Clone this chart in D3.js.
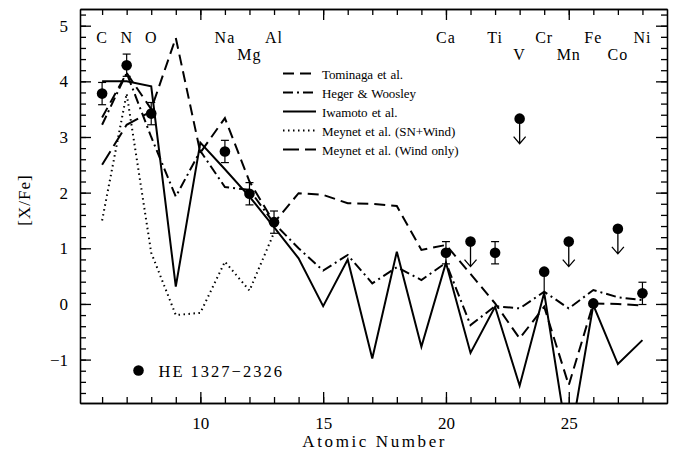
<!DOCTYPE html>
<html>
<head>
<meta charset="utf-8">
<script src="https://cdn.jsdelivr.net/npm/d3@7/dist/d3.min.js"></script>
<style>
    body { margin: 0; background: #fff; }
    svg text { font-family: "Liberation Serif", "Times New Roman", serif; fill: #000; }
    .axis path, .axis line { stroke: #000; stroke-width: 1.3; }
</style>
</head>
<body>
<svg id="chart" width="680" height="452"></svg>
<script>

    // model yields, atomic number 6 (C) .. 28 (Ni)
    var modelZ = [ 6, 7, 8, 9, 10, 11, 12, 13, 14, 15, 16, 17, 18, 19, 20, 21, 22, 23, 24, 25, 26, 27, 28 ];
    var tominaga = [ 3.35, 4.15, 3.5, 4.78, 2.72, 3.34, 2.2, 1.46, 1.99, 1.96, 1.81, 1.8, 1.76, 0.97, 1.06, 0.54, 0.01, -0.62, -0.05, -1.46, 0.01, 0.0, -0.03 ];
    var heger = [ 3.22, 4.15, 3.0, 1.93, 2.75, 2.1, 2.05, 1.45, 1.0, 0.6, 0.88, 0.37, 0.66, 0.43, 0.74, -0.38, -0.04, -0.08, 0.22, -0.08, 0.25, 0.12, 0.07 ];
    var iwamoto = [ 4.0, 4.0, 3.91, 0.31, 2.9, 2.42, 1.93, 1.38, 0.82, -0.04, 0.8, -0.98, 0.94, -0.77, 0.74, -0.88, -0.05, -1.47, 0.2, -2.6, -0.02, -1.08, -0.65 ];

    var meynetSNZ = [ 6, 7, 8, 9, 10, 11, 12, 13 ];
    var meynetSN = [ 1.5, 3.78, 0.92, -0.2, -0.16, 0.76, 0.24, 1.28 ];

    var meynetWindZ = [ 6, 7, 8 ];
    var meynetWind = [ 2.5, 3.22, 3.46 ];

    // HE 1327-2326 measurements
    var obsZ = [ 6, 7, 8, 11, 12, 13, 20, 22, 24, 26, 28 ];
    var obsXFe = [ 3.78, 4.29, 3.42, 2.74, 1.98, 1.47, 0.92, 0.92, 0.58, 0.01, 0.19 ];
    var obsErrLo = [ 0.2, 0.2, 0.2, 0.2, 0.2, 0.2, 0.2, 0.2, 0.38, 0, 0.2 ];
    var obsErrHi = [ 0.2, 0.2, 0.2, 0.2, 0.2, 0.2, 0.2, 0.2, 0, 0, 0.2 ];

    // upper limits
    var limitZ = [ 21, 23, 25, 27 ];
    var limitXFe = [ 1.12, 3.33, 1.12, 1.35 ];

    var elementNames = [ 'C', 'N', 'O', 'Na', 'Mg', 'Al', 'Ca', 'Ti', 'V', 'Cr', 'Mn', 'Fe', 'Co', 'Ni' ];
    var elementZ = [ 6, 7, 8, 11, 12, 13, 20, 22, 23, 24, 25, 26, 27, 28 ];
    var elementRow = [ 0, 0, 0, 0, 1, 0, 0, 0, 1, 0, 1, 0, 1, 0 ];

    var xMajorTicks = [ 10, 15, 20, 25 ];
    var yMajorTicks = [ -1, 0, 1, 2, 3, 4, 5 ];

    var legendNames = [ 'Tominaga et al.', 'Heger & Woosley', 'Iwamoto et al.', 'Meynet et al. (SN+Wind)', 'Meynet et al. (Wind only)' ];
    var legendDash = [ '11,6', '10,4,2,4', null, '1.5,3.5', '16,6' ];


    var margin = { top: 9, right: 13, bottom: 49, left: 80 },
        width = 680 - margin.left - margin.right,
        height = 452 - margin.top - margin.bottom,
        svg = d3.select( '#chart' ),
        g = svg.append( 'g' ).attr( 'transform', 'translate(' + margin.left + ',' + margin.top + ')' );

    var x = d3.scaleLinear().domain( [ 5.1, 29.0 ] ).range( [ 0, width ] ),
        y = d3.scaleLinear().domain( [ -1.78, 5.3 ] ).range( [ height, 0 ] );

    var xMinor = d3.range( 6, 29 ),
        yMinor = d3.range( -16, 53, 2 ).map( function( d ) { return d / 10; } );

    /**
     * draws one set of inward ticks on a side
     * @param   {Function}  axisFn
     * @param   {d3.scale}  scale
     * @param   {Array}     ticks
     * @param   {Integer}   size
     * @param   {Boolean}   labels
     * @param   {String}    shift
     */
    function drawTicks( axisFn, scale, ticks, size, labels, shift ) {
        var axis = axisFn( scale )
            .tickValues( ticks )
            .tickSizeInner( -size )
            .tickSizeOuter( 0 )
            .tickPadding( 11 );

        if ( !labels ) {
            axis.tickFormat( '' );
        }

        var a = g.append( 'g' )
            .attr( 'class', 'axis' )
            .attr( 'transform', shift || null )
            .call( axis );

        a.selectAll( 'text' )
            .style( 'font-size', '17px' )
            .style( 'font-family', '"Liberation Serif", serif' )
            .attr( 'fill', '#000' );
        return a;
    }

    drawTicks( d3.axisBottom, x, xMinor, 6, false, 'translate(0,' + height + ')' );
    drawTicks( d3.axisBottom, x, xMajorTicks, 11, true, 'translate(0,' + height + ')' )
        .selectAll( 'text' ).attr( 'dy', '0.9em' );
    drawTicks( d3.axisTop, x, xMinor, 6, false );
    drawTicks( d3.axisTop, x, xMajorTicks, 11, false );
    drawTicks( d3.axisLeft, y, yMinor, 6, false );
    drawTicks( d3.axisLeft, y, yMajorTicks, 11, true )
        .selectAll( 'text' ).attr( 'x', -12 );
    drawTicks( d3.axisRight, y, yMinor, 6, false, 'translate(' + width + ',0)' );
    drawTicks( d3.axisRight, y, yMajorTicks, 11, false, 'translate(' + width + ',0)' );

    // axis titles
    svg.append( 'text' )
        .attr( 'x', margin.left + x( 17.1 ) )
        .attr( 'y', 447 )
        .attr( 'text-anchor', 'middle' )
        .style( 'font-size', '17px' )
        .style( 'letter-spacing', '2.6px' )
        .text( 'Atomic Number' );

    svg.append( 'text' )
        .attr( 'transform', 'translate(30,200) rotate(-90)' )
        .attr( 'text-anchor', 'middle' )
        .style( 'font-size', '17px' )
        .style( 'letter-spacing', '1px' )
        .text( '[X/Fe]' );

    // model curves
    var clip = g.append( 'clipPath' ).attr( 'id', 'plot-clip' );
    clip.append( 'rect' ).attr( 'width', width ).attr( 'height', height );

    var plot = g.append( 'g' ).attr( 'clip-path', 'url(#plot-clip)' );

    var line = d3.line()
        .x( function( d ) { return x( d[ 0 ] ); } )
        .y( function( d ) { return y( d[ 1 ] ); } );

    /**
     * @param   {Array}     zs
     * @param   {Array}     vals
     * @param   {String}    dash
     */
    function drawModel( zs, vals, dash ) {
        plot.append( 'path' )
            .datum( d3.zip( zs, vals ) )
            .attr( 'd', line )
            .attr( 'fill', 'none' )
            .attr( 'stroke', '#000' )
            .attr( 'stroke-width', 2 )
            .attr( 'stroke-dasharray', dash );
    }

    drawModel( modelZ, tominaga, legendDash[ 0 ] );
    drawModel( modelZ, heger, legendDash[ 1 ] );
    drawModel( modelZ, iwamoto, legendDash[ 2 ] );
    drawModel( meynetSNZ, meynetSN, legendDash[ 3 ] );
    drawModel( meynetWindZ, meynetWind, legendDash[ 4 ] );

    // measured points with error bars
    var obs = d3.range( obsZ.length ).map( function( i ) {
        return { z: obsZ[ i ], v: obsXFe[ i ], lo: obsErrLo[ i ], hi: obsErrHi[ i ] };
    } );

    var errs = plot.selectAll( 'g.err' )
        .data( obs.filter( function( d ) { return d.lo > 0 || d.hi > 0; } ) )
        .enter().append( 'g' )
        .attr( 'class', 'err' )
        .attr( 'stroke', '#000' )
        .attr( 'stroke-width', 1.2 );

    errs.append( 'line' )
        .attr( 'x1', function( d ) { return x( d.z ); } )
        .attr( 'x2', function( d ) { return x( d.z ); } )
        .attr( 'y1', function( d ) { return y( d.v - d.lo ); } )
        .attr( 'y2', function( d ) { return y( d.v + d.hi ); } );

    errs.filter( function( d ) { return d.hi > 0; } ).append( 'line' )
        .attr( 'x1', function( d ) { return x( d.z ) - 4; } )
        .attr( 'x2', function( d ) { return x( d.z ) + 4; } )
        .attr( 'y1', function( d ) { return y( d.v + d.hi ); } )
        .attr( 'y2', function( d ) { return y( d.v + d.hi ); } );

    errs.filter( function( d ) { return d.hi > 0; } ).append( 'line' )
        .attr( 'x1', function( d ) { return x( d.z ) - 4; } )
        .attr( 'x2', function( d ) { return x( d.z ) + 4; } )
        .attr( 'y1', function( d ) { return y( d.v - d.lo ); } )
        .attr( 'y2', function( d ) { return y( d.v - d.lo ); } );

    plot.selectAll( 'circle.obs' )
        .data( obs )
        .enter().append( 'circle' )
        .attr( 'class', 'obs' )
        .attr( 'cx', function( d ) { return x( d.z ); } )
        .attr( 'cy', function( d ) { return y( d.v ); } )
        .attr( 'r', 5.3 )
        .attr( 'fill', '#000' );

    // upper limits: dot with downward arrow
    var limits = plot.selectAll( 'g.limit' )
        .data( d3.zip( limitZ, limitXFe ) )
        .enter().append( 'g' )
        .attr( 'class', 'limit' )
        .attr( 'transform', function( d ) { return 'translate(' + x( d[ 0 ] ) + ',' + y( d[ 1 ] ) + ')'; } );

    limits.append( 'circle' ).attr( 'r', 5.3 ).attr( 'fill', '#000' );
    limits.append( 'path' )
        .attr( 'd', 'M0,0V25M-6,18L0,25L6,18' )
        .attr( 'fill', 'none' )
        .attr( 'stroke', '#000' )
        .attr( 'stroke-width', 1.3 );

    // element names along the top
    g.selectAll( 'text.elem' )
        .data( d3.range( elementNames.length ) )
        .enter().append( 'text' )
        .attr( 'class', 'elem' )
        .attr( 'x', function( i ) { return x( elementZ[ i ] ); } )
        .attr( 'y', function( i ) { return elementRow[ i ] ? 50.5 : 34.3; } )
        .attr( 'text-anchor', 'middle' )
        .style( 'font-size', '16px' )
        .style( 'letter-spacing', '1px' )
        .text( function( i ) { return elementNames[ i ]; } );

    // legend for the models
    var legend = svg.append( 'g' ).attr( 'transform', 'translate(283,73.5)' );

    legendNames.forEach( function( name, i ) {
        var row = legend.append( 'g' ).attr( 'transform', 'translate(0,' + ( i * 19 ) + ')' );
        row.append( 'line' )
            .attr( 'x1', 0 ).attr( 'x2', 33 )
            .attr( 'stroke', '#000' )
            .attr( 'stroke-width', 2 )
            .attr( 'stroke-dasharray', legendDash[ i ] );
        row.append( 'text' )
            .attr( 'x', 39 )
            .attr( 'y', 5 )
            .style( 'font-size', '13px' )
            .style( 'letter-spacing', '-0.1px' )
            .style( 'word-spacing', '1px' )
            .text( name );
    } );

    // legend for the star
    var star = svg.append( 'g' ).attr( 'transform', 'translate(138.5,370.5)' );
    star.append( 'circle' ).attr( 'r', 5.3 ).attr( 'fill', '#000' );
    star.append( 'text' )
        .attr( 'x', 20 )
        .attr( 'y', 6 )
        .style( 'font-size', '16.5px' )
        .style( 'letter-spacing', '2px' )
        .text( 'HE 1327\u22122326' );

</script>
</body>
</html>
